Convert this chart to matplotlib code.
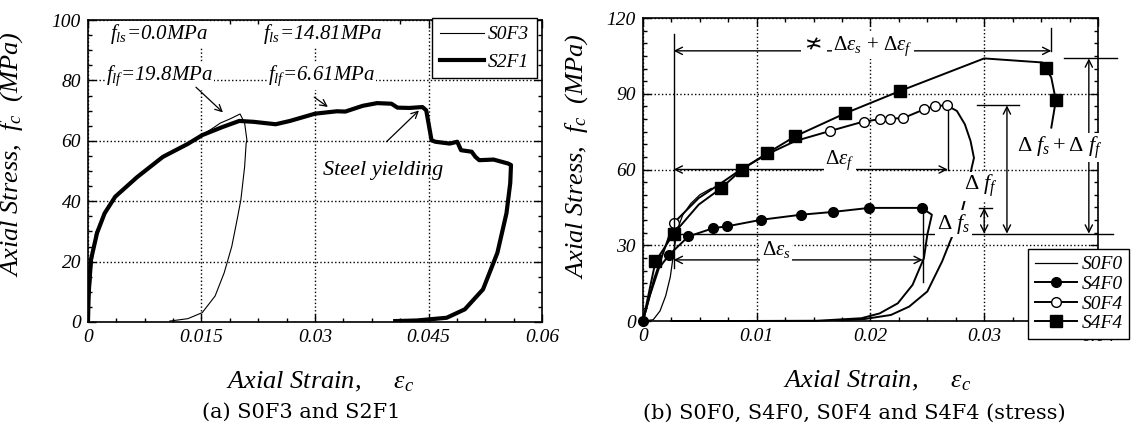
import matplotlib
matplotlib.use('Agg')
import matplotlib.pyplot as plt
from matplotlib.lines import Line2D
from matplotlib.ticker import MultipleLocator

plt.rcParams['font.family'] = ['Liberation Serif', 'DejaVu Serif', 'DejaVu Sans']
plt.rcParams['mathtext.fontset'] = 'custom'
plt.rcParams['mathtext.rm'] = 'Liberation Serif'
plt.rcParams['mathtext.it'] = 'Liberation Serif:italic'
plt.rcParams['mathtext.bf'] = 'Liberation Serif:bold'

# (a) S0F3 and S2F1
s0f3_strain = [0, 0.0005, 0.001, 0.0022, 0.0036, 0.0065, 0.0099, 0.0132, 0.0151, 0.0165, 0.0175,
               0.0188, 0.0201, 0.0207, 0.0210, 0.0209, 0.0207, 0.0202, 0.0197, 0.0190, 0.0180,
               0.0168, 0.0151, 0.0132, 0.0108]
s0f3_stress = [0, 18.5, 29.5, 36, 41.5, 48, 54.7, 59, 62, 64.2, 65.9,
               67.3, 68.9, 65.9, 60.3, 59.1, 51.4, 40.4, 33.8, 25, 16.3,
               8.6, 3.1, 1.1, 0.3]
s2f1_strain = [0, 0.0001, 0.0004, 0.0012, 0.0022, 0.0036, 0.0065, 0.0099, 0.0132, 0.0151, 0.0178,
               0.0200, 0.0219, 0.0248, 0.0267, 0.0300, 0.0329, 0.0340, 0.0363, 0.0382, 0.0401,
               0.0409, 0.0425, 0.0442, 0.0447, 0.0454, 0.0459, 0.0478, 0.0488, 0.0493, 0.0507,
               0.0512, 0.0517, 0.0536, 0.0555, 0.0559, 0.0558, 0.0553, 0.0541, 0.0522, 0.0498,
               0.0474, 0.0435, 0.0406]
s2f1_stress = [0, 9.7, 20.7, 29.5, 36, 41.5, 48, 54.7, 59, 61.9, 64.6,
               66.6, 66.3, 65.5, 66.6, 69, 69.8, 69.7, 71.6, 72.5, 72.3,
               71, 70.9, 71.2, 70.1, 60.2, 59.7, 59.1, 59.7, 56.9, 56.4,
               54.7, 53.6, 53.8, 52.5, 52, 46, 36, 22.9, 10.8, 4.2,
               1.4, 0.5, 0.3]

# (b) S0F0, S4F0, S0F4 and S4F4
s0f0_strain = [0, 0.0009, 0.0015, 0.002, 0.0024, 0.0027, 0.003, 0.0035, 0.0042, 0.005, 0.006]
s0f0_stress = [0, 0.5, 4, 10, 17.4, 27, 36, 42, 46.5, 50, 52.5]

s4f0_strain = [0, 0.0006, 0.0014, 0.0023, 0.004, 0.0062, 0.0074, 0.0104, 0.0139, 0.0167, 0.0199,
               0.0245, 0.0254, 0.0250, 0.0247, 0.0237, 0.0224, 0.0208, 0.0192, 0.0153, 0.008, 0.0025]
s4f0_stress = [0, 10, 20.9, 26.2, 33.5, 36.8, 37.5, 40.1, 42.1, 43.2, 44.8,
               44.8, 42.1, 34.2, 24.9, 14.3, 7, 3, 1.1, 0.1, 0, 0]
s4f0_marks = [0, 3, 4, 5, 6, 7, 8, 9, 10, 11]

s0f4_strain = [0, 0.001, 0.0027, 0.0049, 0.0069, 0.0087, 0.0109, 0.0134, 0.0164, 0.0194, 0.0208,
               0.0217, 0.0229, 0.0247, 0.0257, 0.0267, 0.0276, 0.0283, 0.0288, 0.0291, 0.0289,
               0.0283, 0.0279, 0.0270, 0.0263, 0.0250, 0.0234, 0.0218, 0.0195, 0.0169]
s0f4_stress = [0, 17, 38.8, 48.7, 54.7, 60.3, 66, 71.3, 75.2, 79, 79.9,
               80.1, 80.4, 83.8, 85.2, 85.4, 83.2, 77.9, 71.3, 64.6, 60.7,
               48, 41, 31.5, 23.6, 11.7, 5.7, 2.4, 0.8, 0.1]
s0f4_marks = [2, 8, 9, 10, 11, 12, 13, 14, 15]

s4f4_strain = [0, 0.0011, 0.0027, 0.0049, 0.0069, 0.0087, 0.0109, 0.0134, 0.0178, 0.0226,
               0.0300, 0.0351, 0.0354, 0.0359, 0.0363, 0.0359]
s4f4_stress = [0, 23.6, 34.6, 46.1, 52.7, 60, 66.4, 73.2, 82.3, 91.1,
               104, 102.4, 100.4, 96.4, 87.4, 76.6]
s4f4_marks = [1, 2, 4, 5, 6, 7, 8, 9, 12, 14]

left_xticks = [0, 0.015, 0.03, 0.045, 0.06]
left_xlabels = ['0', '0.015', '0.03', '0.045', '0.06']
left_yticks = [0, 20, 40, 60, 80, 100]
right_xticks = [0, 0.01, 0.02, 0.03, 0.04]
right_xlabels = ['0', '0.01', '0.02', '0.03', '0.04']
right_yticks = [0, 30, 60, 90, 120]

TICK = dict(fontsize=14, fontstyle='italic')
LAB = dict(fontsize=19, fontstyle='italic')
NOBOX = dict(facecolor='white', edgecolor='none', pad=1)


def style_axes(ax):
    ax.tick_params(which='both', direction='in', top=True, right=True, width=1)
    ax.tick_params(which='major', length=6, pad=5)
    ax.tick_params(which='minor', length=3)
    for s in ax.spines.values():
        s.set_linewidth(1.2)
    ax.grid(True, which='major', linestyle=':', color='black', linewidth=1)


fig = plt.figure(figsize=(11.38, 4.24), dpi=100)
ax1 = fig.add_axes([0.0773, 0.2406, 0.399, 0.712])
ax2 = fig.add_axes([0.565, 0.2429, 0.3998, 0.7146])

# ---- left panel
ax1.plot(s0f3_strain, s0f3_stress, color='black', lw=0.8)
ax1.plot(s2f1_strain, s2f1_stress, color='black', lw=3)
ax1.set_xlim(0, 0.06)
ax1.set_ylim(0, 100)
ax1.set_xticks(left_xticks, left_xlabels, **TICK)
ax1.set_yticks(left_yticks, [str(v) for v in left_yticks], **TICK)
ax1.xaxis.set_minor_locator(MultipleLocator(0.00375))
ax1.yaxis.set_minor_locator(MultipleLocator(5))
style_axes(ax1)
ax1.set_xlabel(r'Axial Strain,     $\varepsilon_c$', **LAB)
ax1.xaxis.set_label_coords(0.511, -0.159)
ax1.set_ylabel(r'Axial Stress,  $f_c$  (MPa)', **LAB)
ax1.yaxis.set_label_coords(-0.138, 0.556)

ax1.text(0.0029, 93.7, r'$f_{ls}$=0.0MPa', fontsize=15, fontstyle='italic', bbox=NOBOX)
ax1.text(0.0024, 80, r'$f_{lf}$=19.8MPa', fontsize=15, fontstyle='italic', bbox=NOBOX)
ax1.text(0.0231, 93.7, r'$f_{ls}$=14.81MPa', fontsize=15, fontstyle='italic', bbox=NOBOX)
ax1.text(0.0238, 80, r'$f_{lf}$=6.61MPa', fontsize=15, fontstyle='italic', bbox=NOBOX)
ax1.text(0.031, 50.3, 'Steel yielding', fontsize=16, fontstyle='italic', va='center')
arw = dict(arrowstyle='->', color='black', lw=0.9, mutation_scale=12)
ax1.annotate('', xy=(0.0181, 68.8), xytext=(0.014, 78.4), arrowprops=arw)
ax1.annotate('', xy=(0.032, 70.7), xytext=(0.0296, 75), arrowprops=arw)
ax1.annotate('', xy=(0.044, 70.7), xytext=(0.0392, 59.1), arrowprops=arw)

ax1.legend([Line2D([], [], color='black', lw=0.8), Line2D([], [], color='black', lw=3)],
           ['S0F3', 'S2F1'], loc='upper right', bbox_to_anchor=(0.989, 1.007),
           prop=dict(family='Liberation Serif', style='italic', size=14),
           handlelength=2.3, labelspacing=0.5, borderpad=0.4, handletextpad=0.2,
           borderaxespad=0, fancybox=False, framealpha=1, edgecolor='black')

# ---- right panel
ax2.plot(s0f0_strain, s0f0_stress, color='black', lw=0.9)
ax2.plot(s4f0_strain, s4f0_stress, color='black', lw=1.4, marker='o', ms=7,
         markevery=s4f0_marks, clip_on=False, zorder=4)
ax2.plot(s0f4_strain, s0f4_stress, color='black', lw=1.4, marker='o', ms=7, mfc='white',
         markevery=s0f4_marks)
ax2.plot(s4f4_strain, s4f4_stress, color='black', lw=1.4, marker='s', ms=8,
         markevery=s4f4_marks)
ax2.set_xlim(0, 0.04)
ax2.set_ylim(0, 120)
ax2.set_xticks(right_xticks, right_xlabels, **TICK)
ax2.set_yticks(right_yticks, [str(v) for v in right_yticks], **TICK)
ax2.xaxis.set_minor_locator(MultipleLocator(0.0025))
ax2.yaxis.set_minor_locator(MultipleLocator(5))
style_axes(ax2)
ax2.set_xlabel(r'Axial Strain,     $\varepsilon_c$', **LAB)
ax2.xaxis.set_label_coords(0.514, -0.158)
ax2.set_ylabel(r'Axial Stress,  $f_c$  (MPa)', **LAB)
ax2.yaxis.set_label_coords(-0.117, 0.545)

thin = dict(color='black', lw=1)
dbl = dict(arrowstyle='<->', color='black', lw=1, mutation_scale=13, shrinkA=0, shrinkB=0)
# strain increments
ax2.plot([0.0027, 0.0027], [21, 113.6], **thin)
ax2.plot([0.0359, 0.0359], [107, 116], **thin)
ax2.annotate('', xy=(0.0027, 107), xytext=(0.0359, 107), arrowprops=dbl)
ax2.text(0.0202, 109, r'$\Delta\varepsilon_s$ + $\Delta\varepsilon_f$', fontsize=15,
         ha='center', va='center', bbox=NOBOX)
ax2.text(0.0150, 109.5, '≭', family='DejaVu Sans', fontsize=15, ha='center', va='center',
         bbox=dict(facecolor='white', edgecolor='none', pad=3))
ax2.plot([0.0268, 0.0268], [60, 83], **thin)
ax2.annotate('', xy=(0.0027, 60), xytext=(0.0268, 60), arrowprops=dbl)
ax2.text(0.0173, 63.5, r'$\Delta\varepsilon_f$', fontsize=15, ha='center', va='center', bbox=NOBOX)
ax2.plot([0.0246, 0.0246], [15.6, 44.8], **thin)
ax2.annotate('', xy=(0.0027, 24.2), xytext=(0.0246, 24.2), arrowprops=dbl)
# stress increments
ax2.plot([0.0027, 0.0413], [34.6, 34.6], clip_on=False, **thin)
ax2.text(0.0117, 28.5, r'$\Delta\varepsilon_s$', fontsize=15, ha='center', va='center', bbox=NOBOX)
ax2.plot([0.0295, 0.0307], [44.8, 44.8], **thin)
ax2.annotate('', xy=(0.03, 34.6), xytext=(0.03, 44.8), arrowprops=dbl)
ax2.text(0.0273, 38.5, r'$\Delta\ f_s$', fontsize=16, ha='center', va='center', bbox=NOBOX)
ax2.plot([0.0294, 0.0331], [85.4, 85.4], **thin)
ax2.annotate('', xy=(0.032, 34.6), xytext=(0.032, 85.4), arrowprops=dbl)
ax2.text(0.0297, 53.4, r'$\Delta\ f_f$', fontsize=16, ha='center', va='center', bbox=NOBOX)
ax2.plot([0.037, 0.0417], [104, 104], clip_on=False, **thin)
ax2.annotate('', xy=(0.0392, 34.6), xytext=(0.0392, 104), arrowprops=dbl, annotation_clip=False)
ax2.text(0.0366, 68.6, r'$\Delta\ f_s + \Delta\ f_f$', fontsize=16, ha='center', va='center',
         bbox=NOBOX)

handles = [Line2D([], [], color='black', lw=0.9),
           Line2D([], [], color='black', lw=1.4, marker='o', ms=7),
           Line2D([], [], color='black', lw=1.4, marker='o', ms=7, mfc='white'),
           Line2D([], [], color='black', lw=1.4, marker='s', ms=8)]
leg = ax2.legend(handles, ['S0F0', 'S4F0', 'S0F4', 'S4F4'], loc='lower left',
                 bbox_to_anchor=(0.846, -0.059),
                 prop=dict(family='Liberation Serif', style='italic', size=14),
                 handlelength=2.2, labelspacing=0.1, borderpad=0.35, handletextpad=0.2,
                 borderaxespad=0, fancybox=False, framealpha=1, edgecolor='black')
leg.set_zorder(10)

fig.text(301 / 1138, 1 - 412 / 424, '(a) S0F3 and S2F1', family='DejaVu Serif',
         fontsize=15, ha='center', va='center')
fig.text(854 / 1138, 1 - 413 / 424, '(b) S0F0, S4F0, S0F4 and S4F4 (stress)',
         family='DejaVu Serif', fontsize=15, ha='center', va='center')

fig.savefig('out.png', dpi=100)
